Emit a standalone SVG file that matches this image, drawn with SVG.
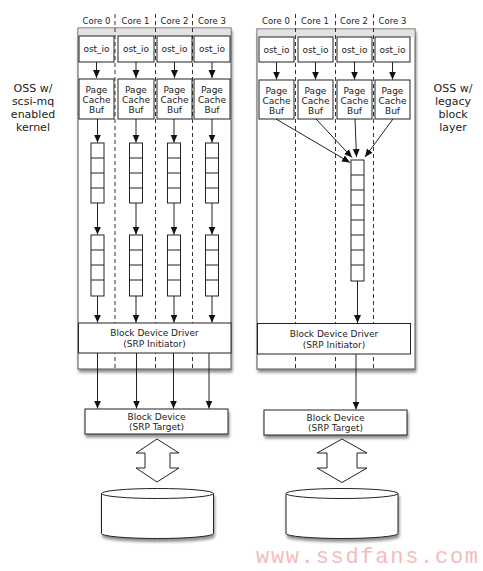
<svg xmlns="http://www.w3.org/2000/svg" width="483" height="571" viewBox="0 0 483 571">
<style>
text{font-family:"DejaVu Sans","Liberation Sans",sans-serif;fill:#222}
.lbl{font-size:8.5px;text-anchor:middle}
.bx{font-size:9px;text-anchor:middle}
.side{font-size:11px;text-anchor:middle}
.box{fill:#fff;stroke:#222;stroke-width:1}
.panel{fill:#fff;stroke:#555;stroke-width:1}
.dash{stroke:#333;stroke-width:1;stroke-dasharray:4,3;fill:none}
.ln{stroke:#222;stroke-width:1;fill:none;marker-end:url(#ah)}
.cell{stroke:#222;stroke-width:1;fill:none}
.wm{font-family:"Liberation Mono","DejaVu Sans Mono",monospace;font-size:22px;fill:#f4bcbc}
</style>
<defs>
<marker id="ah" viewBox="0 0 8 8" refX="8" refY="4" markerWidth="8" markerHeight="8" markerUnits="userSpaceOnUse" orient="auto">
<path d="M0,0.5 L8,4 L0,7.5 z" fill="#111"/>
</marker>
<filter id="sh" x="-10%" y="-10%" width="130%" height="140%">
<feGaussianBlur in="SourceAlpha" stdDeviation="1.5"/>
<feOffset dx="1" dy="2.5" result="b"/>
<feComponentTransfer><feFuncA type="linear" slope="0.45"/></feComponentTransfer>
<feMerge><feMergeNode/><feMergeNode in="SourceGraphic"/></feMerge>
</filter>
</defs>

<!-- side labels -->
<g id="label-left">
<text class="side" x="33" y="92">OSS w/</text>
<text class="side" x="33" y="105">scsi-mq</text>
<text class="side" x="33" y="118">enabled</text>
<text class="side" x="33" y="131">kernel</text>
</g>
<g id="label-right">
<text class="side" x="453" y="92">OSS w/</text>
<text class="side" x="453" y="105">legacy</text>
<text class="side" x="453" y="118">block</text>
<text class="side" x="453" y="131">layer</text>
</g>

<!-- LEFT PANEL -->
<g id="panel-left">
<rect class="panel" x="78" y="28" width="153" height="341" filter="url(#sh)"/>
<rect x="78.5" y="28.5" width="152" height="7.5" fill="#e2e2e2"/>
</g>
<g id="cores-left">
<text class="lbl" x="96.5" y="24">Core 0</text>
<text class="lbl" x="135.5" y="24">Core 1</text>
<text class="lbl" x="174.5" y="24">Core 2</text>
<text class="lbl" x="212" y="24">Core 3</text>
<line class="dash" x1="115" y1="14" x2="115" y2="369"/>
<line class="dash" x1="155.5" y1="14" x2="155.5" y2="369"/>
<line class="dash" x1="192.5" y1="14" x2="192.5" y2="369"/>
</g>
<g id="ostio-left">
<rect class="box" x="79" y="36" width="35" height="26"/><text class="bx" x="96.5" y="52">ost_io</text>
<rect class="box" x="118" y="36" width="36" height="26"/><text class="bx" x="136" y="52">ost_io</text>
<rect class="box" x="157" y="36" width="35" height="26"/><text class="bx" x="174.5" y="52">ost_io</text>
<rect class="box" x="194" y="36" width="36" height="26"/><text class="bx" x="212" y="52">ost_io</text>
</g>
<g id="pcache-left">
<rect class="box" x="79" y="79" width="35" height="40"/>
<text class="bx" x="96.5" y="93">Page</text><text class="bx" x="96.5" y="103">Cache</text><text class="bx" x="96.5" y="113">Buf</text>
<rect class="box" x="118" y="79" width="36" height="40"/>
<text class="bx" x="136" y="93">Page</text><text class="bx" x="136" y="103">Cache</text><text class="bx" x="136" y="113">Buf</text>
<rect class="box" x="157" y="79" width="35" height="40"/>
<text class="bx" x="174.5" y="93">Page</text><text class="bx" x="174.5" y="103">Cache</text><text class="bx" x="174.5" y="113">Buf</text>
<rect class="box" x="194" y="79" width="36" height="40"/>
<text class="bx" x="212" y="93">Page</text><text class="bx" x="212" y="103">Cache</text><text class="bx" x="212" y="113">Buf</text>
</g>
<g id="queues-left">
<g class="cell">
<rect x="91" y="143" width="13" height="60" fill="#fff"/><path d="M91,158h13M91,173h13M91,188h13"/>
<rect x="129.5" y="143" width="13" height="60" fill="#fff"/><path d="M129.5,158h13M129.5,173h13M129.5,188h13"/>
<rect x="167.5" y="143" width="13" height="60" fill="#fff"/><path d="M167.5,158h13M167.5,173h13M167.5,188h13"/>
<rect x="205.5" y="143" width="13" height="60" fill="#fff"/><path d="M205.5,158h13M205.5,173h13M205.5,188h13"/>
<rect x="91" y="235" width="13" height="61" fill="#fff"/><path d="M91,250h13M91,265h13M91,280h13"/>
<rect x="129.5" y="235" width="13" height="61" fill="#fff"/><path d="M129.5,250h13M129.5,265h13M129.5,280h13"/>
<rect x="167.5" y="235" width="13" height="61" fill="#fff"/><path d="M167.5,250h13M167.5,265h13M167.5,280h13"/>
<rect x="205.5" y="235" width="13" height="61" fill="#fff"/><path d="M205.5,250h13M205.5,265h13M205.5,280h13"/>
</g>
</g>
<g id="driver-left">
<rect class="box" x="78.5" y="323" width="152.5" height="30"/>
<text class="bx" x="154.5" y="336">Block Device Driver</text>
<text class="bx" x="154.5" y="347">(SRP Initiator)</text>
</g>

<!-- RIGHT PANEL -->
<g id="panel-right">
<rect class="panel" x="257" y="29" width="158" height="340" filter="url(#sh)"/>
<rect x="257.5" y="29.5" width="157" height="7.5" fill="#e2e2e2"/>
</g>
<g id="cores-right">
<text class="lbl" x="276" y="24">Core 0</text>
<text class="lbl" x="315" y="24">Core 1</text>
<text class="lbl" x="354" y="24">Core 2</text>
<text class="lbl" x="392.5" y="24">Core 3</text>
<line class="dash" x1="295.5" y1="14" x2="295.5" y2="369"/>
<line class="dash" x1="335.5" y1="14" x2="335.5" y2="369"/>
<line class="dash" x1="373.5" y1="14" x2="373.5" y2="369"/>
</g>
<g id="ostio-right">
<rect class="box" x="259" y="37" width="35" height="25"/><text class="bx" x="276.5" y="52.5">ost_io</text>
<rect class="box" x="298" y="37" width="35" height="25"/><text class="bx" x="315.5" y="52.5">ost_io</text>
<rect class="box" x="337" y="37" width="35" height="25"/><text class="bx" x="354.5" y="52.5">ost_io</text>
<rect class="box" x="375" y="37" width="35" height="25"/><text class="bx" x="392.5" y="52.5">ost_io</text>
</g>
<g id="pcache-right">
<rect class="box" x="259" y="80" width="35" height="39"/>
<text class="bx" x="276.5" y="93.5">Page</text><text class="bx" x="276.5" y="103.5">Cache</text><text class="bx" x="276.5" y="113.5">Buf</text>
<rect class="box" x="298" y="80" width="35" height="39"/>
<text class="bx" x="315.5" y="93.5">Page</text><text class="bx" x="315.5" y="103.5">Cache</text><text class="bx" x="315.5" y="113.5">Buf</text>
<rect class="box" x="337" y="80" width="35" height="39"/>
<text class="bx" x="354.5" y="93.5">Page</text><text class="bx" x="354.5" y="103.5">Cache</text><text class="bx" x="354.5" y="113.5">Buf</text>
<rect class="box" x="375" y="80" width="35" height="39"/>
<text class="bx" x="392.5" y="93.5">Page</text><text class="bx" x="392.5" y="103.5">Cache</text><text class="bx" x="392.5" y="113.5">Buf</text>
</g>
<g id="queue-right">
<rect x="351" y="160" width="13" height="121" fill="#fff" stroke="#222"/>
<path class="cell" d="M351,175h13M351,190h13M351,205h13M351,220h13M351,235h13M351,250h13M351,265h13"/>
</g>
<g id="driver-right">
<rect class="box" x="257.5" y="323.5" width="153" height="30.5"/>
<text class="bx" x="334" y="336.5">Block Device Driver</text>
<text class="bx" x="334" y="347.5">(SRP Initiator)</text>
</g>

<!-- bottom devices -->
<g id="blockdev-left">
<rect class="box" x="85" y="409" width="143" height="25" filter="url(#sh)"/>
<text class="bx" x="156.5" y="419.5">Block Device</text>
<text class="bx" x="156.5" y="430">(SRP Target)</text>
</g>
<g id="blockdev-right">
<rect class="box" x="264" y="410" width="143" height="25" filter="url(#sh)"/>
<text class="bx" x="335.5" y="420.5">Block Device</text>
<text class="bx" x="335.5" y="431">(SRP Target)</text>
</g>
<g id="bidir-left">
<polygon points="157,439 179,453 170,453 170,468 179,468 157,482 136,468 145,468 145,453 136,453" fill="#fff" stroke="#222"/>
</g>
<g id="bidir-right">
<polygon points="342,439 367,453 357,453 357,468 367,468 342,482.5 317,468 327,468 327,453 317,453" fill="#fff" stroke="#222"/>
</g>
<g id="disk-left">
<path d="M101.5,493.5 v40 a56,5 0 0 0 112,0 v-40 a56,5 0 0 0 -112,0 z" fill="#fff" stroke="#222" filter="url(#sh)"/>
<path d="M101.5,493.5 a56,5 0 0 0 112,0" fill="none" stroke="#222"/>
</g>
<g id="disk-right">
<path d="M286,493.5 v40 a56,5 0 0 0 112,0 v-40 a56,5 0 0 0 -112,0 z" fill="#fff" stroke="#222" filter="url(#sh)"/>
<path d="M286,493.5 a56,5 0 0 0 112,0" fill="none" stroke="#222"/>
</g>

<!-- connectors -->
<g id="connectors">
<line class="ln" x1="96.5" y1="62" x2="96.5" y2="78"/>
<line class="ln" x1="136" y1="62" x2="136" y2="78"/>
<line class="ln" x1="174.5" y1="62" x2="174.5" y2="78"/>
<line class="ln" x1="212" y1="62" x2="212" y2="78"/>
<line class="ln" x1="97.5" y1="119" x2="97.5" y2="142.5"/>
<line class="ln" x1="136" y1="119" x2="136" y2="142.5"/>
<line class="ln" x1="174" y1="119" x2="174" y2="142.5"/>
<line class="ln" x1="212" y1="119" x2="212" y2="142.5"/>
<line class="ln" x1="97.5" y1="203" x2="97.5" y2="234.5"/>
<line class="ln" x1="136" y1="203" x2="136" y2="234.5"/>
<line class="ln" x1="174" y1="203" x2="174" y2="234.5"/>
<line class="ln" x1="212" y1="203" x2="212" y2="234.5"/>
<line class="ln" x1="97.5" y1="296" x2="97.5" y2="322.5"/>
<line class="ln" x1="136" y1="296" x2="136" y2="322.5"/>
<line class="ln" x1="174" y1="296" x2="174" y2="322.5"/>
<line class="ln" x1="212" y1="296" x2="212" y2="322.5"/>
<line class="ln" x1="97.5" y1="353" x2="97.5" y2="408.5"/>
<line class="ln" x1="136.5" y1="353" x2="136.5" y2="408.5"/>
<line class="ln" x1="173.5" y1="353" x2="173.5" y2="408.5"/>
<line class="ln" x1="209" y1="353" x2="209" y2="408.5"/>

<line class="ln" x1="276.5" y1="62" x2="276.5" y2="79.5"/>
<line class="ln" x1="315.5" y1="62" x2="315.5" y2="79.5"/>
<line class="ln" x1="354.5" y1="62" x2="354.5" y2="79.5"/>
<line class="ln" x1="392.5" y1="62" x2="392.5" y2="79.5"/>
<line class="ln" x1="276" y1="119" x2="350" y2="162.5"/>
<line class="ln" x1="316" y1="119" x2="352" y2="157.5"/>
<line class="ln" x1="355" y1="119" x2="356.5" y2="157"/>
<line class="ln" x1="393" y1="119" x2="365" y2="157"/>
<line class="ln" x1="357.5" y1="281" x2="357.5" y2="323"/>
<line class="ln" x1="356" y1="354" x2="356" y2="409.5"/>
</g>

<text class="wm" x="256" y="563" textLength="222" lengthAdjust="spacing">www.ssdfans.com</text>
</svg>
